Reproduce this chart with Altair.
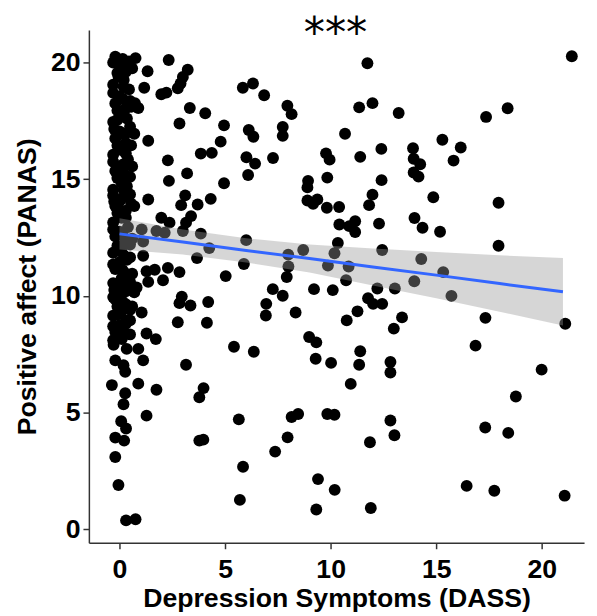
import altair as alt
import pandas as pd

# points in the jittered column at DASS = 0
dass_zero = [-0.2, 0.15, 0.35, -0.1, 0.2, -0.3, 0.45, 0.0, -0.2, 0.3, 0.1, -0.3, 0.5, 0.0, -0.2, 0.3,
             0.1, -0.3, 0.4, 0.0, -0.2, 0.3, 0.1, -0.3, 0.5, 0.0, -0.2, 0.3, 0.1, -0.3, 0.4, 0.0,
             -0.2, 0.3, 0.1, -0.3, 0.5, 0.0, -0.2, 0.3, 0.1, -0.3, 0.4, 0.0, -0.2, 0.3, 0.1, -0.3,
             0.5, 0.0, -0.2, 0.6, 0.5, 0.7, 0.6, 0.2, 0.7, -0.1, 0.6, 0.2, 0.6, -0.1, 0.5, 0.2,
             -0.1, 0.2, -0.1, 0.2, 0.6, 0.7, 0.3, -0.3, 0.05, -0.25, 0.25, -0.25,
             0.45, -0.05, 0.3, -0.3, 0.15, 0.55, -0.1, 0.35, -0.25, 0.2, 0.55, -0.1, 0.3, -0.3,
             0.15, 0.5, -0.1, 0.35, -0.3, 0.15, 0.55, -0.1, 0.3, -0.3, 0.15, 0.5, -0.1, 0.35,
             -0.3, 0.15, 0.5, -0.1, 0.3, -0.3, 0.15, 0.5, -0.1, 0.3, -0.3, 0.15, 0.0, -0.3,
             -0.28, 0.11, 0.34, -0.2, 0.19, 0.27, -0.36, 0.27, 0.19, 0.08, 0.31, -0.2, 0.22, -0.2,
             -0.05, 0.31, 0.76]
panas_zero = [20.25, 20.15, 19.85, 19.55, 19.25, 19.05, 18.85, 18.55, 18.25, 18.05, 17.75, 17.45,
              17.25, 17.05, 16.75, 16.55, 16.25, 16.05, 15.85, 15.55, 15.35, 15.15, 14.85, 14.55,
              14.35, 14.05, 13.85, 13.65, 13.35, 13.15, 12.95, 12.75, 12.55, 12.35, 12.05, 11.85,
              11.65, 11.45, 11.15, 10.95, 10.75, 10.55, 10.35, 10.05, 9.85, 9.65, 9.35, 9.15, 8.95,
              8.75, 8.45, 19.75, 18.35, 16.95, 15.55, 14.55, 13.85, 12.15, 12.45, 10.45, 9.55,
              9.55, 8.35, 11.75, 13.55, 15.65, 17.55, 18.95, 10.95, 10.15, 8.95, 20.0, 19.8, 14.05,
              16.9, 10.25,
              20.05, 19.4, 19.6, 18.7, 18.45, 18.1, 17.95, 17.6, 17.15, 16.95, 16.45, 16.45, 16.1,
              15.75, 15.45, 15.1, 15.05, 14.7, 14.3, 14.2, 13.95, 13.75, 13.35, 12.85, 12.6, 12.2,
              12.0, 11.55, 11.35, 11.1, 10.6, 10.5, 10.2, 9.95, 9.75, 9.4, 9.2, 8.8, 8.7, 8.55,
              8.25, 8.1,
              7.91, 8.15, 7.73, 7.24, 7.03, 6.75, 6.18, 5.83, 5.36, 4.63, 4.32, 3.93, 3.8, 3.1,
              1.9, 0.38, 0.43]

# the remaining points
dass_rest = [3.23, 3.0, 2.89, 2.76, 5.84, 6.32, 6.85, 11.74, 3.33, 4.06, 7.95, 8.15, 11.35, 11.98,
             2.84, 4.95, 6.12, 6.34, 7.73, 7.73, 10.68, 4.79, 3.85, 4.37, 6.01, 6.42, 7.27, 9.78,
             9.95, 11.4, 3.2, 6.09, 4.95, 8.93, 8.9, 9.84, 3.11, 2.92, 3.7, 4.32, 8.9, 9.17, 9.37,
             9.82, 10.4, 11.82, 11.98, 3.39, 3.15, 3.0, 3.85, 10.41, 10.88, 11.16, 11.16, 6.0,
             4.25, 10.34, 8.7, 7.99, 10.18, 3.67, 5.89, 8.0, 9.87, 10.85, 2.84, 5.03, 7.92, 10.73,
             2.95, 3.36, 2.84, 4.2, 2.76, 4.14, 7.26, 7.73, 6.95, 6.93, 8.34, 9.21, 10.1, 11.77,
             11.27, 10.76, 5.42, 6.36, 8.98, 9.32, 9.29, 10.02, 11.4, 11.35, 10.95, 3.15, 3.98,
             3.78, 5.65, 8.15, 8.46, 9.84, 10.18, 3.78, 3.97, 7.96, 7.37, 11.86, 5.85, 9.4, 10.19,
             5.7, 9.32, 11.9,
             21.42, 13.22, 17.36, 18.38, 15.29, 16.16, 15.82, 13.9, 13.93, 14.24, 13.93, 14.16,
             12.4, 12.41, 14.86, 17.95, 12.29, 13.97, 14.35, 15.18, 17.95, 12.44, 14.29, 15.33,
             13.96, 12.21, 13.04,
             15.72, 12.01, 12.44, 13.38, 12.99, 17.33, 21.11, 16.86, 12.83, 12.83, 19.99, 18.77,
             12.83, 13.02, 17.32, 18.41, 16.44, 17.75, 21.08,
             0.76, 2.33, 1.33, 1.17, 1.98, 2.22, 0.89, 0.73, 1.36, 2.29, 2.34, 1.36, 1.98, 2.37,
             1.05, 1.75, 2.14, 1.12, 1.12, 1.28, 1.67, 2.29,
             0.81, 1.36, 2.06, 1.05, 1.28, 1.72, 0.89, 1.12, 0.89, 1.75, 1.28]
panas_rest = [19.69, 19.38, 19.1, 18.9, 18.92, 19.1, 18.6, 19.97, 18.05, 17.83, 18.15, 17.79, 18.08,
              18.26, 17.39, 17.31, 17.11, 16.82, 17.24, 16.86, 16.95, 16.61, 16.1, 16.13, 15.94,
              15.67, 15.91, 16.11, 15.84, 15.96, 15.25, 15.18, 14.83, 14.93, 14.65, 15.07, 14.31,
              13.89, 13.92, 14.16, 14.09, 13.95, 14.13, 13.78, 13.81, 13.89, 14.34, 13.42, 13.14,
              12.78, 12.67, 13.06, 12.99, 13.2, 12.74, 12.39, 12.05, 12.27, 11.97, 11.77, 11.83,
              11.62, 11.37, 11.26, 11.3, 11.26, 11.02, 10.85, 10.81, 10.67,
              9.97, 9.59, 9.69, 9.74, 8.87, 8.85, 10.29, 10.01, 9.66, 9.16, 9.29, 10.29, 10.25, 9.9,
              9.34, 8.95, 7.82, 7.61, 8.24, 8.01, 7.31, 7.13, 7.63, 7.05, 6.23, 7.05, 6.05, 5.66,
              4.71, 4.81, 4.94, 4.94, 4.91, 3.8, 3.84, 3.94, 3.33, 3.73, 2.68, 2.15, 1.69, 1.26,
              0.85, 0.91,
              20.27, 17.84, 17.67, 18.04, 16.69, 16.36, 15.8, 16.33, 15.88, 15.64, 15.29, 15.11,
              16.3, 14.96, 14.23, 13.99, 13.1, 13.34, 12.92, 12.75, 12.15, 11.97, 11.58, 11.02,
              10.63, 10.32, 10.32,
              10.0, 9.66, 9.66, 9.08, 8.6, 9.06, 8.81, 7.87, 7.17, 6.72, 6.84, 5.69, 4.66, 4.03,
              4.36, 4.13, 1.86, 1.65, 1.44,
              20.19, 20.11, 19.63, 18.92, 18.64, 18.71, 18.05, 18.26, 16.65, 15.81, 14.93, 14.13,
              13.35, 13.14, 12.85, 12.78, 12.71, 12.33, 11.72, 11.06, 11.12, 11.2,
              10.36, 10.6, 10.67, 9.29, 8.39, 8.15, 7.73, 7.24, 6.24, 5.98, 4.87]

# linear fit with its confidence band
fit_x = [0, 3, 6, 9, 12, 15, 18, 21]
fit_y = [12.66, 12.31, 11.95, 11.60, 11.24, 10.89, 10.53, 10.18]
fit_lo = [11.99, 11.77, 11.43, 11.00, 10.45, 9.90, 9.32, 8.73]
fit_hi = [13.33, 12.85, 12.47, 12.20, 12.03, 11.88, 11.74, 11.63]

x_ticks = [0, 5, 10, 15, 20]
y_ticks = [0, 5, 10, 15, 20]
title_text = ["***"]

pts = pd.DataFrame({"dass": dass_zero + dass_rest, "panas": panas_zero + panas_rest})
fit = pd.DataFrame({"dass": fit_x, "fit": fit_y, "lo": fit_lo, "hi": fit_hi})
ttl = pd.DataFrame({"t": title_text})

FONT = "Liberation Sans"
xscale = alt.Scale(domain=[-1.45, 22.0], nice=False, zero=False)
yscale = alt.Scale(domain=[-0.58, 21.4], nice=False, zero=False)

xaxis = alt.Axis(values=x_ticks, title="Depression Symptoms (DASS)", grid=False,
                 labelPadding=8, titlePadding=4)
yaxis = alt.Axis(values=y_ticks, title="Positive affect (PANAS)", grid=False,
                 labelPadding=3, titlePadding=9)

points = alt.Chart(pts).mark_circle(size=145, color="black", opacity=1).encode(
    x=alt.X("dass:Q", scale=xscale, axis=xaxis),
    y=alt.Y("panas:Q", scale=yscale, axis=yaxis),
)

band = alt.Chart(fit).mark_area(color="#999999", opacity=0.4).encode(
    x=alt.X("dass:Q", scale=xscale),
    y=alt.Y("lo:Q", scale=yscale),
    y2="hi:Q",
)

line = alt.Chart(fit).mark_line(color="#3366FF", strokeWidth=3).encode(
    x=alt.X("dass:Q", scale=xscale),
    y=alt.Y("fit:Q", scale=yscale),
)

title = alt.Chart(ttl).mark_text(font="DejaVu Sans", fontSize=43, color="black", align="center",
                                 baseline="alphabetic").encode(
    x=alt.value(250), y=alt.value(17), text="t:N"
)

chart = (points + band + line + title).properties(
    width=502,
    height=520,
    autosize=alt.AutoSizeParams(type="none"),
    padding={"left": 82, "top": 18, "right": 5, "bottom": 70},
).configure_view(stroke="transparent").configure_axis(
    labelFont=FONT, labelFontWeight="bold", labelFontSize=27, labelColor="black",
    titleFont=FONT, titleFontWeight="bold", titleFontSize=27, titleColor="black",
    domainColor="#333333", domainWidth=1.5, tickColor="#333333", tickWidth=1.5, tickSize=6,
)

chart.save("out.html", embed_options={"renderer": "svg", "actions": False})
